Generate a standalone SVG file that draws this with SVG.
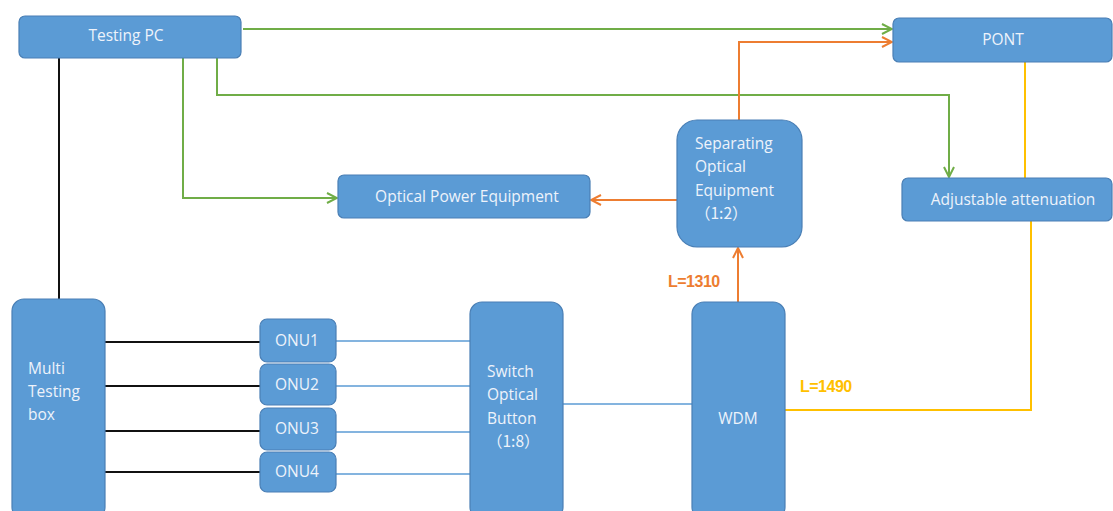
<svg xmlns="http://www.w3.org/2000/svg" width="1113" height="511" viewBox="0 0 1113 511">
<style>
.box{fill:#5b9bd5;stroke:#4a7fb5;stroke-width:1.2}
.t{font-family:"Open Sans","Liberation Sans",sans-serif;font-size:15.5px;fill:#eef3fb}
.cjk{font-family:"Noto Sans CJK SC",sans-serif}
.c{text-anchor:middle}
.g{fill:none;stroke:#70ad47;stroke-width:2}
.o{fill:none;stroke:#ed7d31;stroke-width:2}
.y{fill:none;stroke:#ffc000;stroke-width:2}
.k{fill:none;stroke:#111;stroke-width:2}
.b{fill:none;stroke:#5b9bd5;stroke-width:1.5}
.lbl{font-family:"Liberation Sans",sans-serif;font-size:16px;font-weight:bold;letter-spacing:-0.5px}
</style>
<defs>
<marker id="ag" viewBox="0 0 12 12" refX="11" refY="6" markerWidth="12" markerHeight="12" markerUnits="userSpaceOnUse" orient="auto"><path d="M1,1 L11,6 L1,11" fill="none" stroke="#70ad47" stroke-width="2"/></marker>
<marker id="ao" viewBox="0 0 12 12" refX="11" refY="6" markerWidth="12" markerHeight="12" markerUnits="userSpaceOnUse" orient="auto"><path d="M1,1 L11,6 L1,11" fill="none" stroke="#ed7d31" stroke-width="2"/></marker>
</defs>
<rect width="1113" height="511" fill="#fff"/>
<g id="connectors">
<line class="k" x1="59" y1="58" x2="59" y2="299"/>
<line class="k" x1="105" y1="342" x2="260" y2="342"/>
<line class="k" x1="105" y1="386" x2="260" y2="386"/>
<line class="k" x1="105" y1="431" x2="260" y2="431"/>
<line class="k" x1="105" y1="472" x2="260" y2="472"/>
<line class="b" x1="336" y1="341" x2="470" y2="341"/>
<line class="b" x1="336" y1="386" x2="470" y2="386"/>
<line class="b" x1="336" y1="432" x2="470" y2="432"/>
<line class="b" x1="336" y1="474" x2="470" y2="474"/>
<line class="b" x1="563" y1="404" x2="692" y2="404"/>
<path class="g" d="M243,29 H892" marker-end="url(#ag)"/>
<path class="g" d="M183,58 V198 H337" marker-end="url(#ag)"/>
<path class="g" d="M217,58 V95 H949 V177" marker-end="url(#ag)"/>
<path class="o" d="M738,302 V248" marker-end="url(#ao)"/>
<path class="o" d="M677,200 H591" marker-end="url(#ao)"/>
<path class="o" d="M739,120 V42 H892" marker-end="url(#ao)"/>
<path class="y" d="M1025,62 V178"/>
<path class="y" d="M1031,221 V410 H785"/>
<text class="lbl" x="668" y="287" fill="#ed7d31">L=1310</text>
<text class="lbl" x="800" y="392" fill="#ffc000">L=1490</text>
</g>
<g id="testing-pc"><rect class="box" x="19" y="16" width="222" height="42" rx="6"/><text class="t c" x="126" y="41">Testing PC</text></g>
<g id="pont"><rect class="box" x="893" y="18" width="219" height="44" rx="6"/><text class="t c" x="1003" y="45">PONT</text></g>
<g id="optical-power"><rect class="box" x="338" y="175" width="252" height="43" rx="6"/><text class="t c" x="467" y="202">Optical Power Equipment</text></g>
<g id="separating"><rect class="box" x="677" y="120" width="125" height="127" rx="20"/>
<text class="t" x="695" y="149">Separating</text><text class="t" x="695" y="172">Optical</text><text class="t" x="695" y="196">Equipment</text><text class="t cjk" x="695" y="219">（1:2）</text></g>
<g id="adjustable"><rect class="box" x="902" y="178" width="210" height="43" rx="6"/><text class="t c" x="1013" y="205">Adjustable attenuation</text></g>
<g id="multi-box"><rect class="box" x="12" y="299" width="93" height="220" rx="12"/>
<text class="t" x="28" y="374">Multi</text><text class="t" x="28" y="397">Testing</text><text class="t" x="28" y="420">box</text></g>
<g id="onu1"><rect class="box" x="260" y="319" width="76" height="43" rx="7"/><text class="t c" x="297" y="346">ONU1</text></g>
<g id="onu2"><rect class="box" x="260" y="364" width="76" height="41" rx="7"/><text class="t c" x="297" y="390">ONU2</text></g>
<g id="onu3"><rect class="box" x="260" y="408" width="76" height="42" rx="7"/><text class="t c" x="297" y="434">ONU3</text></g>
<g id="onu4"><rect class="box" x="260" y="452" width="76" height="40" rx="7"/><text class="t c" x="297" y="477">ONU4</text></g>
<g id="switch"><rect class="box" x="470" y="302" width="93" height="217" rx="12"/>
<text class="t" x="487" y="377">Switch</text><text class="t" x="487" y="400">Optical</text><text class="t" x="487" y="424">Button</text><text class="t cjk" x="487" y="447">（1:8）</text></g>
<g id="wdm"><rect class="box" x="692" y="302" width="93" height="217" rx="12"/><text class="t c" x="738" y="424">WDM</text></g>
</svg>
